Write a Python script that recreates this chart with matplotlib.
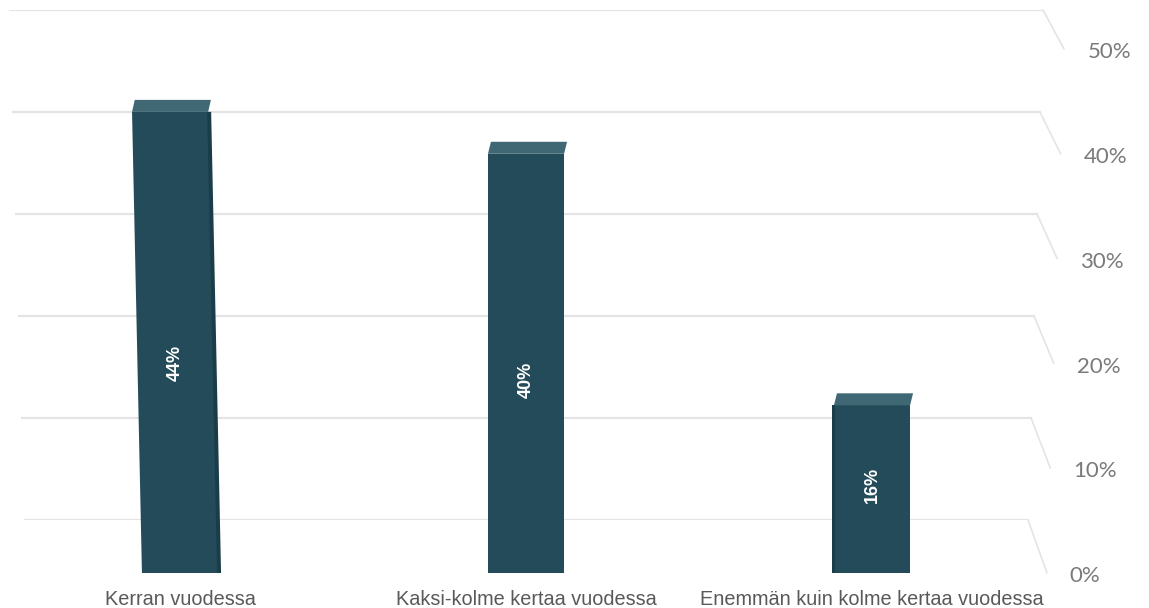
import numpy as np
import matplotlib
matplotlib.use("Agg")
import matplotlib.pyplot as plt
import matplotlib.transforms as mtransforms
from matplotlib.patches import Polygon, ConnectionPatch

# data
categories = ["Kerran vuodessa", "Kaksi-kolme kertaa vuodessa",
              "Enemmän kuin kolme kertaa vuodessa"]
values = [44, 40, 16]
value_labels = ["44%", "40%", "16%"]
grid_values = [0, 10, 20, 30, 40, 50]
grid_labels = ["0%", "10%", "20%", "30%", "40%", "50%"]

# style / layout (pixels)
W, H = 1149, 608
FRONT_COLOR = "#244b59"
TOP_COLOR = "#3f6774"
SIDE_COLOR = "#1b3d49"
GRID_COLOR = "#e4e4e4"
BAR_LEAN = [-0.0215, 0.0, 0.0]   # perspective lean per bar (dx/dy)
SIDE_FACE = [3.0, 0.0, -1.5]     # visible side face width, px
TOP_DEPTH = (3, 12)              # top face offset, px
LABEL_POS = [0.455, 0.46, 0.525]  # value label height as fraction of bar

fig = plt.figure(figsize=(W / 100, H / 100), dpi=100)
fig.patch.set_facecolor("white")

# back wall (gridlines)
axb = fig.add_axes([0, 88 / H, 1, 510 / H])
axb.set_xlim(0, 1)
axb.set_ylim(0, 50)
axb.axis("off")

# front plane (bars)
axf = fig.add_axes([7 / W, 35 / H, 1038 / W, 524 / H])
axf.set_xlim(-0.5, 2.5)
axf.set_ylim(0, 50)
axf.patch.set_alpha(0)
for s in axf.spines.values():
    s.set_visible(False)
axf.set_yticks([])

front_xy = mtransforms.blended_transform_factory(fig.transFigure, axf.transData)
back_xy = mtransforms.blended_transform_factory(axb.transAxes, axb.transData)

for v, lab in zip(grid_values, grid_labels):
    x_left = (25 - 0.3 * v) / W
    x_back = (1028 + 0.3 * v) / W
    x_front = (1047 + 0.34 * v) / W
    axb.plot([x_left, x_back], [v, v], color=GRID_COLOR, lw=1.6,
             transform=back_xy, zorder=0)
    con = ConnectionPatch(xyA=(x_back, v), coordsA=back_xy,
                          xyB=(x_front, v), coordsB=front_xy,
                          color=GRID_COLOR, lw=1.2)
    fig.add_artist(con)
    axf.text((1069 + 0.38 * v) / W, v - 0.3, lab, transform=front_xy,
             ha="left", va="center", fontsize=16, color="#7a7a7a",
             family=["Lato", "DejaVu Sans"])

x = np.arange(len(categories))
bars = axf.bar(x, values, width=0.22, color=FRONT_COLOR, zorder=3)

td = axf.transData
for i, rect in enumerate(bars):
    bx, by = td.transform((x[i], 0))
    lean = (mtransforms.Affine2D().translate(-bx, -by)
            .skew(np.arctan(BAR_LEAN[i]), 0).translate(bx, by))
    rect.set_transform(td + lean)

    x0, w, v = rect.get_x(), rect.get_width(), rect.get_height()
    fl = td.transform((x0, v))
    fr = td.transform((x0 + w, v))
    bl = fl + np.array(TOP_DEPTH)
    br = fr + np.array(TOP_DEPTH)
    top = td.inverted().transform([fl, fr, br, bl])
    axf.add_patch(Polygon(top, closed=True, facecolor=TOP_COLOR,
                          edgecolor="none", transform=td + lean, zorder=3))

    sw = SIDE_FACE[i]
    if sw != 0:
        base = fr if sw > 0 else fl
        bot = td.transform((x0 + w, 0)) if sw > 0 else td.transform((x0, 0))
        side = td.inverted().transform([bot - np.array([np.sign(sw), 0]),
                                        base - np.array([np.sign(sw), 0]),
                                        base + np.array([sw, 0]),
                                        bot + np.array([sw, 0])])
        axf.add_patch(Polygon(side, closed=True, facecolor=SIDE_COLOR,
                              edgecolor="none", transform=td + lean, zorder=3))

    cx, cy = td.transform((x[i], v * LABEL_POS[i]))
    lx, ly = lean.transform((cx, cy))
    axf.text(lx, ly, value_labels[i], transform=None, rotation=90,
             ha="center", va="center", color="white", fontsize=13,
             fontweight="bold", family=["Liberation Sans", "DejaVu Sans"],
             zorder=5)

axf.set_xticks(x)
axf.set_xticklabels(categories, fontsize=14.3, color="#595959",
                    family=["Liberation Sans Narrow", "Liberation Sans"])
axf.tick_params(axis="x", length=0, pad=12)

plt.savefig("out.png", dpi=100)
plt.close()
